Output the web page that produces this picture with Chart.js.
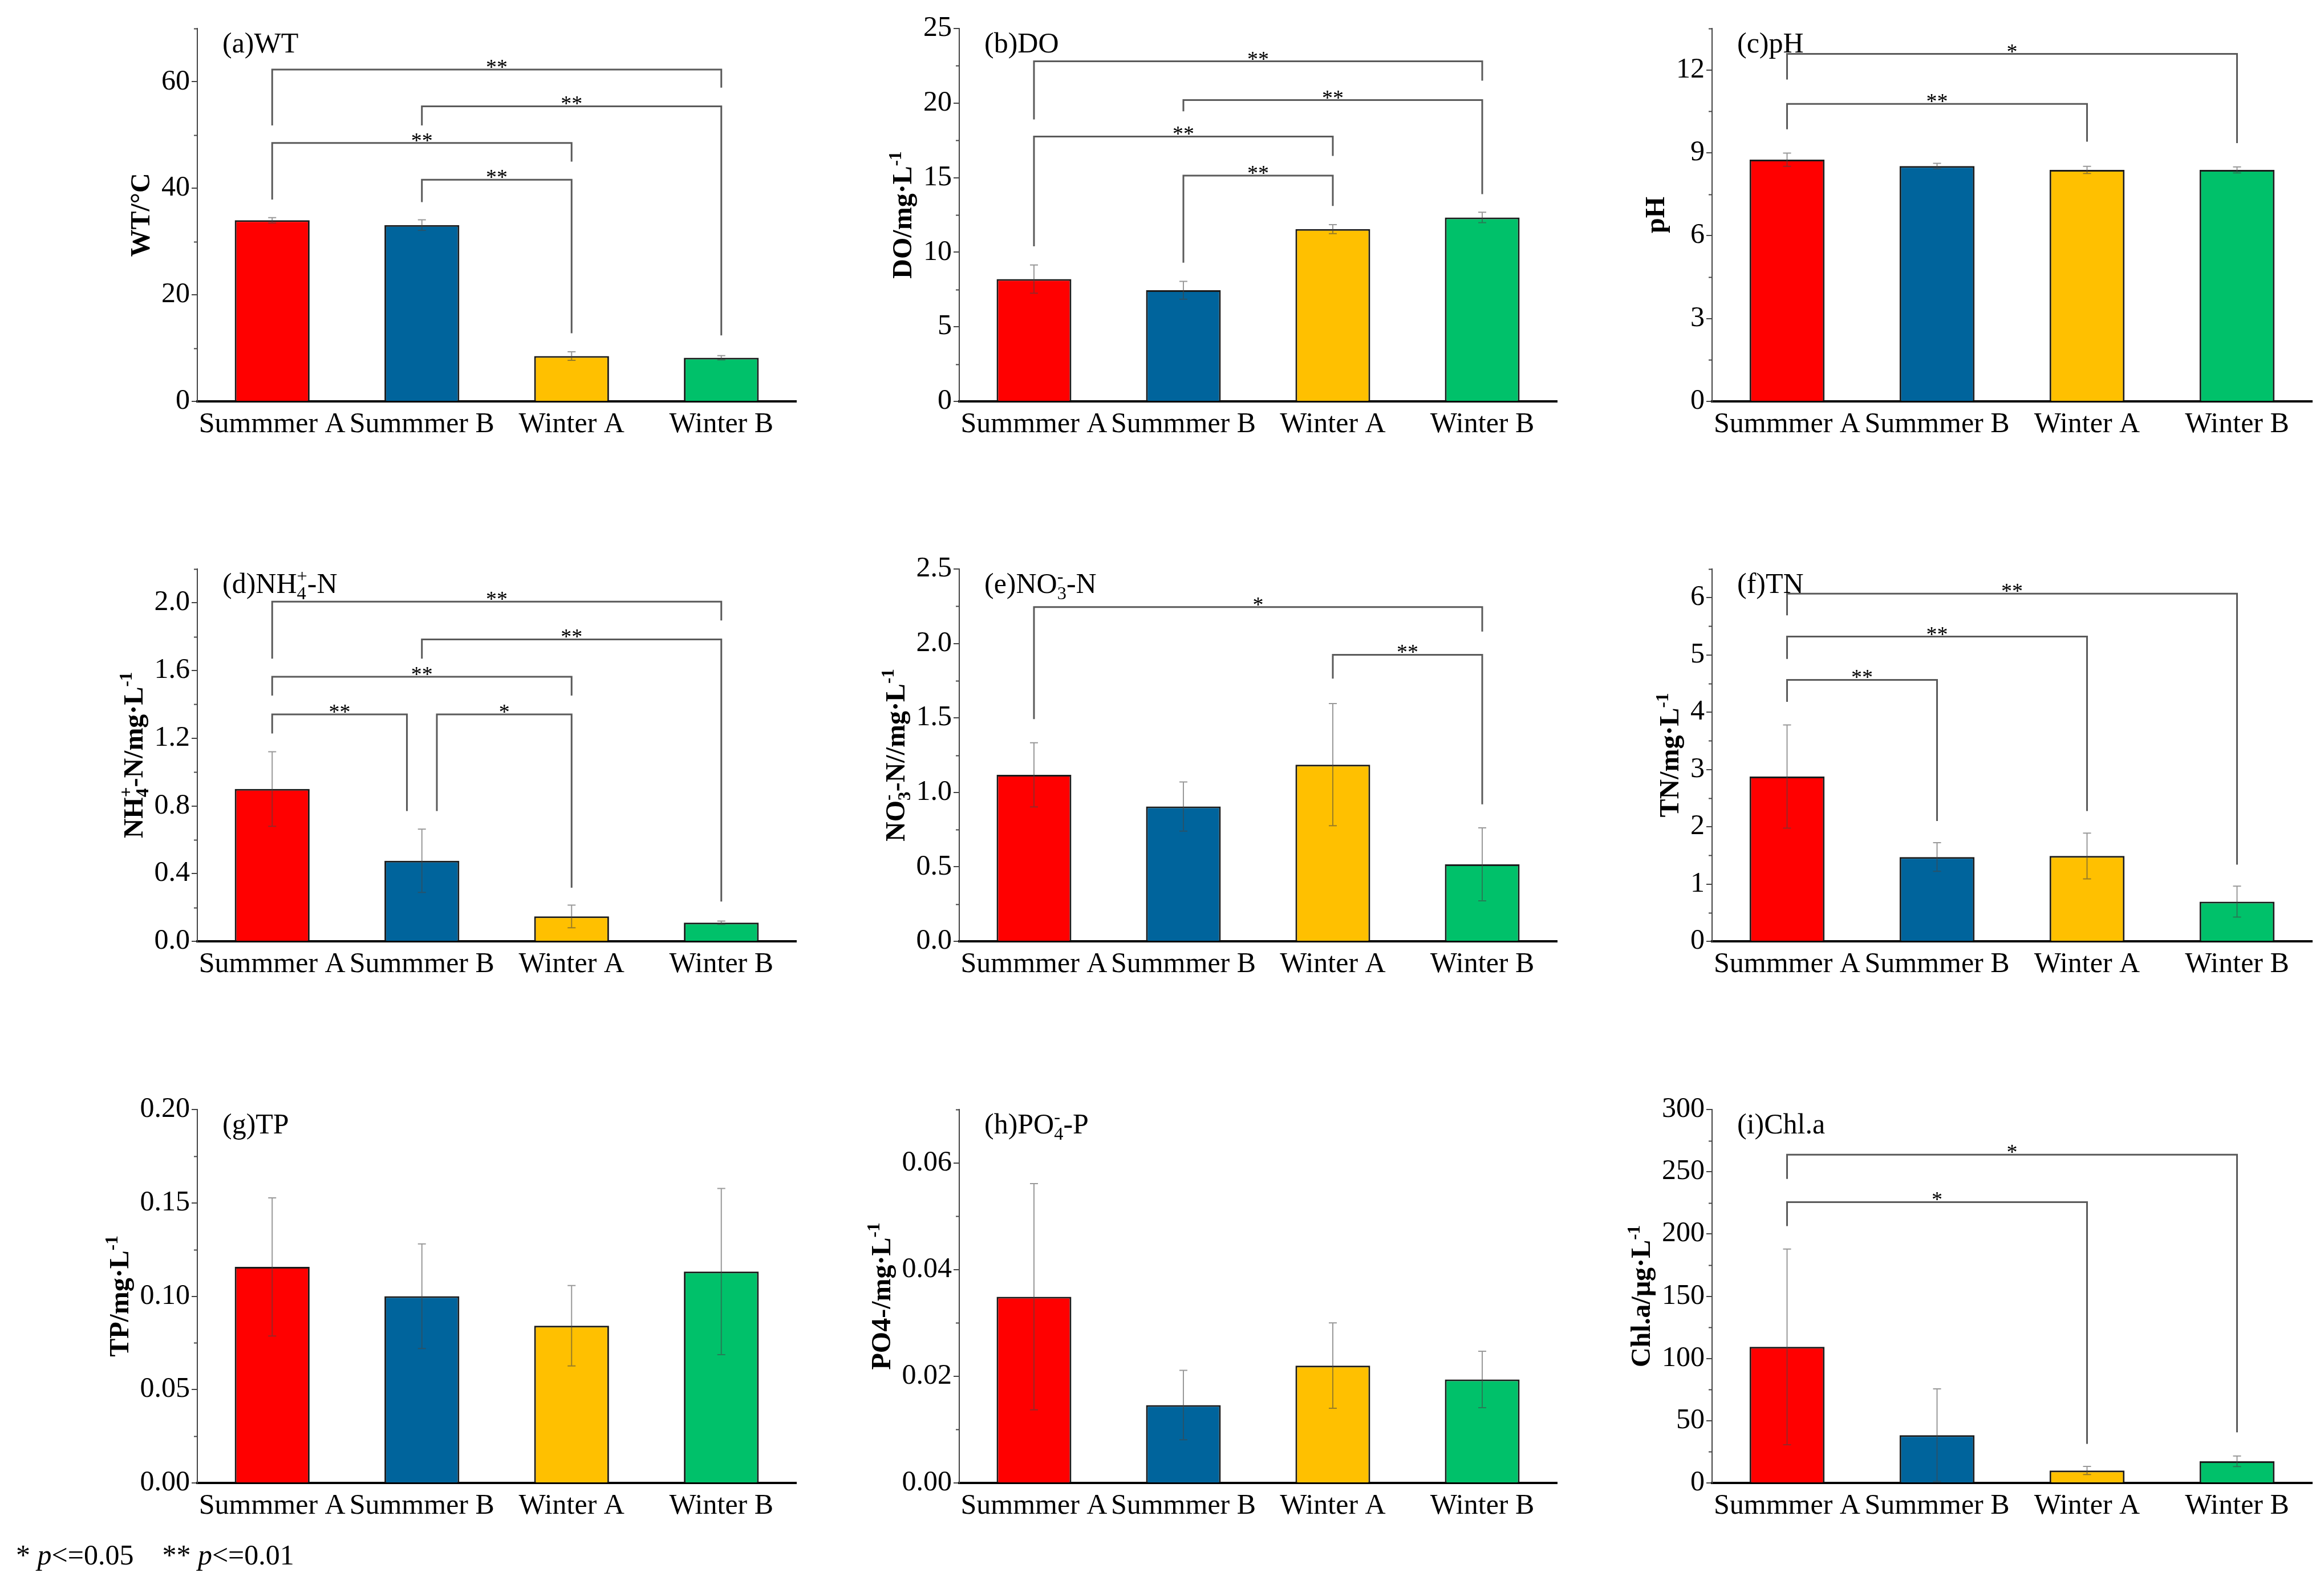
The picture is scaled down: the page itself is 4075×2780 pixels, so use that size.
<!DOCTYPE html>
<html>
<head>
<meta charset="utf-8">
<script src="https://cdn.jsdelivr.net/npm/chart.js@4.4.0/dist/chart.umd.min.js"></script>
<style>
    body { margin: 0; background: #fff; width: 4075px; height: 2780px; position: relative; overflow: hidden; }
    canvas { position: absolute; }
    #note { position: absolute; left: 28px; top: 2698px; font: 50px "Liberation Serif"; color: #000; white-space: pre; }
</style>
</head>
<body>
<div id="note">* <i>p</i>&lt;=0.05    ** <i>p</i>&lt;=0.01</div>
<script>
// Categories and colours
const categories = ['Summmer A', 'Summmer B', 'Winter A', 'Winter B'];
const barColors = ['#ff0000', '#00649c', '#ffc000', '#00c16a'];

// (a) WT
const wtMean = [34.0, 33.1, 8.5, 8.2];
const wtSd = [0.5, 1.0, 0.8, 0.4];
const wtTicks = [0, 20, 40, 60];
const wtMinor = [10, 30, 50, 70];
// brackets: [from, to, level, left leg end, right leg end, label]
const wtSig = [[0, 3, 62.3, 51.8, 58.9, '**'], [1, 3, 55.4, 51.8, 12.4, '**'], [0, 2, 48.5, 37.9, 45.0, '**'], [1, 2, 41.6, 37.4, 12.8, '**']];

// (b) DO
const doMean = [8.2, 7.45, 11.55, 12.33];
const doSd = [0.95, 0.6, 0.3, 0.35];
const doTicks = [0, 5, 10, 15, 20, 25];
const doMinor = [2.5, 7.5, 12.5, 17.5, 22.5];
const doSig = [[0, 3, 22.8, 18.9, 21.5, '**'], [1, 3, 20.2, 19.45, 13.9, '**'], [0, 2, 17.76, 10.4, 16.46, '**'], [1, 2, 15.14, 9.3, 13.1, '**']];

// (c) pH
const phMean = [8.75, 8.52, 8.38, 8.38];
const phSd = [0.24, 0.1, 0.13, 0.11];
const phTicks = [0, 3, 6, 9, 12];
const phMinor = [1.5, 4.5, 7.5, 10.5, 13.5];
const phSig = [[0, 3, 12.58, 11.65, 9.35, '*'], [0, 2, 10.77, 9.85, 9.4, '**']];

// (d) NH4+-N
const nhMean = [0.90, 0.476, 0.147, 0.11];
const nhSd = [0.22, 0.187, 0.067, 0.01];
const nhTicks = [0, 0.4, 0.8, 1.2, 1.6, 2.0];
const nhMinor = [0.2, 0.6, 1.0, 1.4, 1.8, 2.2];
const nhSig = [[0, 3, 2.007, 1.67, 1.896, '**'], [1, 3, 1.784, 1.67, 0.235, '**'], [0, 2, 1.563, 1.452, 1.452, '**'], [0, 0.9, 1.341, 1.228, 0.77, '**'], [1.1, 2, 1.341, 0.77, 0.317, '*']];

// (e) NO3--N
const noMean = [1.118, 0.905, 1.186, 0.517];
const noSd = [0.215, 0.165, 0.41, 0.245];
const noTicks = [0, 0.5, 1.0, 1.5, 2.0, 2.5];
const noMinor = [0.25, 0.75, 1.25, 1.75, 2.25];
const noSig = [[0, 3, 2.244, 1.492, 2.08, '*'], [2, 3, 1.924, 1.764, 0.92, '**']];

// (f) TN
const tnMean = [2.877, 1.471, 1.49, 0.693];
const tnSd = [0.9, 0.25, 0.4, 0.27];
const tnTicks = [0, 1, 2, 3, 4, 5, 6];
const tnMinor = [0.5, 1.5, 2.5, 3.5, 4.5, 5.5, 6.5];
const tnSig = [[0, 3, 6.07, 5.69, 1.34, '**'], [0, 2, 5.32, 4.93, 2.275, '**'], [0, 1, 4.565, 4.18, 2.1, '**']];

// (g) TP
const tpMean = [0.1157, 0.1, 0.0842, 0.1132];
const tpSd = [0.037, 0.028, 0.0215, 0.0445];
const tpTicks = [0, 0.05, 0.10, 0.15, 0.20];
const tpMinor = [0.025, 0.075, 0.125, 0.175];

// (h) PO4--P
const poMean = [0.0349, 0.0146, 0.022, 0.0194];
const poSd = [0.0212, 0.0065, 0.008, 0.0053];
const poTicks = [0, 0.02, 0.04, 0.06];
const poMinor = [0.01, 0.03, 0.05, 0.07];

// (i) Chl.a
const chlMean = [109.3, 38.4, 10.0, 17.4];
const chlSd = [78.6, 37.2, 3.3, 4.2];
const chlTicks = [0, 50, 100, 150, 200, 250, 300];
const chlMinor = [25, 75, 125, 175, 225, 275];
const chlSig = [[0, 3, 263.7, 244.2, 40.7, '*'], [0, 2, 225.6, 206.3, 31.4, '*']];

// Panel layout (page pixels)
const colX = [346, 1682, 3002];
const colW = [1050, 1048, 1052];
const rowTop = [47, 995, 1943];
const rowZero = [704, 1651, 2601];

const LW = 210, PT = 30, PR = 20, BH = 110;
const FONT = 'Liberation Serif';

const panels = [
    { mean: wtMean, sd: wtSd, max: 70, ticks: wtTicks, minor: wtMinor, dec: 0, sig: wtSig,
      title: [['(a)WT', '']], ytitle: [['WT/°C', '']] },
    { mean: doMean, sd: doSd, max: 25, ticks: doTicks, minor: doMinor, dec: 0, sig: doSig,
      title: [['(b)DO', '']], ytitle: [['DO/mg·L', ''], ['-1', 'sup']] },
    { mean: phMean, sd: phSd, max: 13.5, ticks: phTicks, minor: phMinor, dec: 0, sig: phSig,
      title: [['(c)pH', '']], ytitle: [['pH', '']] },
    { mean: nhMean, sd: nhSd, max: 2.2, ticks: nhTicks, minor: nhMinor, dec: 1, sig: nhSig,
      title: [['(d)NH', ''], ['4', 'sub'], ['+', 'sup'], ['-N', '']],
      ytitle: [['NH', ''], ['4', 'sub'], ['+', 'sup'], ['-N/mg·L', ''], ['-1', 'sup']] },
    { mean: noMean, sd: noSd, max: 2.5, ticks: noTicks, minor: noMinor, dec: 1, sig: noSig,
      title: [['(e)NO', ''], ['3', 'sub'], ['-', 'sup'], ['-N', '']],
      ytitle: [['NO', ''], ['3', 'sub'], ['-', 'sup'], ['-N//mg·L', ''], ['-1', 'sup']] },
    { mean: tnMean, sd: tnSd, max: 6.5, ticks: tnTicks, minor: tnMinor, dec: 0, sig: tnSig,
      title: [['(f)TN', '']], ytitle: [['TN/mg·L', ''], ['-1', 'sup']] },
    { mean: tpMean, sd: tpSd, max: 0.2, ticks: tpTicks, minor: tpMinor, dec: 2, sig: [],
      title: [['(g)TP', '']], ytitle: [['TP/mg·L', ''], ['-1', 'sup']] },
    { mean: poMean, sd: poSd, max: 0.07, ticks: poTicks, minor: poMinor, dec: 2, sig: [],
      title: [['(h)PO', ''], ['4', 'sub'], ['-', 'sup'], ['-P', '']],
      ytitle: [['PO4-/mg·L', ''], ['-1', 'sup']] },
    { mean: chlMean, sd: chlSd, max: 300, ticks: chlTicks, minor: chlMinor, dec: 0, sig: chlSig,
      title: [['(i)Chl.a', '']], ytitle: [['Chl.a/μg·L', ''], ['-1', 'sup']] }
];

// Rich text with sub/superscripts; returns width
function richText(ctx, segs, x, y, size, weight, draw) {
    let cx = x, subStart = null, subEnd = 0;
    segs.forEach(([txt, mode], k) => {
        const s = mode ? size * 0.65 : size;
        ctx.font = `${weight} ${s}px "${FONT}"`;
        const w = ctx.measureText(txt).width;
        let dy = 0, startX = cx;
        if (mode === 'sub') { dy = size * 0.22; subStart = cx; subEnd = cx + w; }
        if (mode === 'sup') {
            dy = -size * 0.38;
            if (k > 0 && segs[k - 1][1] === 'sub') startX = subStart;
        }
        if (draw) ctx.fillText(txt, startX, y + dy);
        if (mode === 'sup' && k > 0 && segs[k - 1][1] === 'sub') cx = Math.max(subEnd, startX + w);
        else cx = startX + w;
    });
    return cx - x;
}

const panelPlugin = {
    id: 'panelExtras',
    afterDatasetsDraw(chart, args, p) {
        const ctx = chart.ctx, xs = chart.scales.x, ys = chart.scales.y;
        ctx.save();
        // error bars
        ctx.strokeStyle = 'rgba(70,70,70,0.55)';
        ctx.lineWidth = 2;
        p.mean.forEach((m, i) => {
            const x = xs.getPixelForValue(i);
            const t = ys.getPixelForValue(m + p.sd[i]);
            const b = ys.getPixelForValue(Math.max(0, m - p.sd[i]));
            ctx.beginPath();
            ctx.moveTo(x, t); ctx.lineTo(x, b);
            ctx.moveTo(x - 7, t); ctx.lineTo(x + 7, t);
            ctx.moveTo(x - 7, b); ctx.lineTo(x + 7, b);
            ctx.stroke();
        });
        // significance brackets
        ctx.strokeStyle = '#5a5a5a';
        ctx.lineWidth = 3;
        ctx.fillStyle = '#000';
        ctx.font = `38px "${FONT}"`;
        ctx.textAlign = 'center';
        ctx.textBaseline = 'alphabetic';
        p.sig.forEach(([i, j, lvl, l1, l2, lab]) => {
            const x1 = xs.getPixelForValue(i), x2 = xs.getPixelForValue(j);
            const yl = ys.getPixelForValue(lvl);
            ctx.beginPath();
            ctx.moveTo(x1, ys.getPixelForValue(l1));
            ctx.lineTo(x1, yl);
            ctx.lineTo(x2, yl);
            ctx.lineTo(x2, ys.getPixelForValue(l2));
            ctx.stroke();
            ctx.fillText(lab, (x1 + x2) / 2, yl + 8);
        });
        ctx.restore();
    },
    afterDraw(chart, args, p) {
        const ctx = chart.ctx, ys = chart.scales.y, area = chart.chartArea;
        ctx.save();
        // minor ticks
        ctx.strokeStyle = '#444';
        ctx.lineWidth = 2;
        p.minor.forEach(v => {
            const y = Math.round(ys.getPixelForValue(v)) + 0.5;
            ctx.beginPath();
            ctx.moveTo(area.left - 6, y); ctx.lineTo(area.left, y);
            ctx.stroke();
        });
        // panel title
        ctx.fillStyle = '#000';
        ctx.textAlign = 'left';
        ctx.textBaseline = 'alphabetic';
        richText(ctx, p.title, area.left + 44, area.top + 42, 50, 'normal', true);
        // y axis title, rotated, placed clear of the widest tick label
        ctx.font = `50px "${FONT}"`;
        const labW = Math.max(...p.ticks.map(v => ctx.measureText(v.toFixed(p.dec)).width));
        const cx = area.left - 14 - labW - 36;
        const w = richText(ctx, p.ytitle, 0, 0, 48, 'bold', false);
        ctx.translate(cx + 16, (area.top + area.bottom) / 2);
        ctx.rotate(-Math.PI / 2);
        richText(ctx, p.ytitle, -w / 2, 0, 48, 'bold', true);
        ctx.restore();
    }
};

panels.forEach((p, k) => {
    const col = k % 3, row = Math.floor(k / 3);
    const plotH = rowZero[row] - rowTop[row];
    const canvas = document.createElement('canvas');
    canvas.width = LW + colW[col] + PR;
    canvas.height = PT + plotH + BH;
    canvas.style.left = (colX[col] - LW) + 'px';
    canvas.style.top = (rowTop[row] - PT) + 'px';
    document.body.appendChild(canvas);

    new Chart(canvas.getContext('2d'), {
        type: 'bar',
        data: {
            labels: categories,
            datasets: [{
                data: p.mean,
                backgroundColor: barColors,
                borderColor: '#1a1a1a',
                borderWidth: 3,
                barPercentage: 0.5,
                categoryPercentage: 1.0
            }]
        },
        options: {
            responsive: false,
            devicePixelRatio: 1,
            animation: false,
            layout: { padding: { top: PT, right: PR, left: 0, bottom: 0 } },
            plugins: {
                legend: { display: false },
                tooltip: { enabled: false },
                panelExtras: p
            },
            scales: {
                x: {
                    offset: true,
                    grid: { display: false, drawTicks: false },
                    border: { display: true, color: '#000', width: 4 },
                    ticks: {
                        font: { family: FONT, size: 50 },
                        color: '#000',
                        padding: 11,
                        maxRotation: 0,
                        autoSkip: false
                    },
                    afterFit: s => { s.height = BH; }
                },
                y: {
                    min: 0,
                    max: p.max,
                    border: { display: true, color: '#444', width: 2 },
                    grid: { drawOnChartArea: false, drawTicks: true, tickLength: 10, color: '#444', lineWidth: 2 },
                    ticks: {
                        font: { family: FONT, size: 50 },
                        color: '#000',
                        padding: 3,
                        callback: v => Number(v).toFixed(p.dec)
                    },
                    afterBuildTicks: s => { s.ticks = p.ticks.map(v => ({ value: v })); },
                    afterFit: s => { s.width = LW; }
                }
            }
        },
        plugins: [panelPlugin]
    });
});
</script>
</body>
</html>
